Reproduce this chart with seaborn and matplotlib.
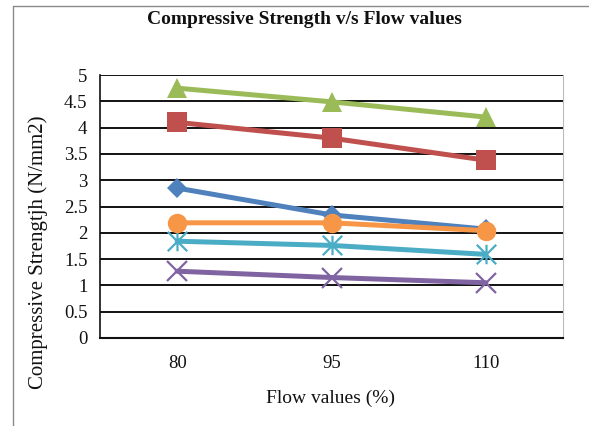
import numpy as np
import pandas as pd
import matplotlib
matplotlib.use("Agg")
import matplotlib.pyplot as plt
from matplotlib.path import Path
from matplotlib.lines import Line2D
import seaborn as sns

# ---- data ----
flow_values = ["80", "95", "110"]
series_names = ["S1", "S2", "S3", "S4", "S5", "S6"]
s1_blue = [2.85, 2.34, 2.07]
s2_red = [4.10, 3.80, 3.38]
s3_green = [4.75, 4.49, 4.20]
s4_purple = [1.27, 1.15, 1.05]
s5_cyan = [1.84, 1.76, 1.59]
s6_orange = [2.19, 2.19, 2.04]
y_ticks = [0, 0.5, 1, 1.5, 2, 2.5, 3, 3.5, 4, 4.5, 5]
y_tick_labels = ["0", "0.5", "1", "1.5", "2", "2.5", "3", "3.5", "4", "4.5", "5"]

sns.set_theme(style="white")
plt.rcParams["font.family"] = ["Liberation Serif", "DejaVu Serif"]

fig = plt.figure(figsize=(5.89, 4.26), dpi=100)
ax = fig.add_axes([100 / 589, 1 - 338 / 426, (563 - 100) / 589, (338 - 75) / 426])

asterisk = Path(
    [(0, -1), (0, 1), (-1, -1), (1, 1), (-1, 1), (1, -1)],
    [Path.MOVETO, Path.LINETO, Path.MOVETO, Path.LINETO, Path.MOVETO, Path.LINETO],
)

styles = [
    (s1_blue, "#4F81BD", "D", 10.5, True),
    (s2_red, "#C0504D", "s", 14, True),
    (s3_green, "#9BBB59", "^", 14.5, True),
    (s4_purple, "#8064A2", "x", 14, False),
    (s5_cyan, "#4BACC6", asterisk, 14, False),
    (s6_orange, "#F79646", "o", 14, True),
]

x_pos = np.arange(len(flow_values))
for i, (vals, col, mk, ms, filled) in enumerate(styles):
    df = pd.DataFrame({"x": x_pos, "y": vals})
    kw = dict(markerfacecolor=col, markeredgecolor=col)
    kw["markeredgewidth"] = 0 if filled else 1.6
    sns.lineplot(data=df, x="x", y="y", ax=ax, color=col, linewidth=3.6,
                 marker=mk, markersize=ms, zorder=3 + i, **kw)

ax.set_xlim(-0.5, len(flow_values) - 0.5)
ax.set_ylim(0, 5)
ax.set_yticks(y_ticks)
ax.set_yticklabels(y_tick_labels)
ax.set_xticks(x_pos)
ax.set_xticklabels(flow_values)
ax.tick_params(axis="y", length=0, pad=9, labelsize=13.5, colors="#111111")
ax.tick_params(axis="x", length=0, pad=12, labelsize=13.5, colors="#111111")
ax.set_xlabel("")
ax.set_ylabel("")

ax.grid(False)
for yv in y_ticks[1:]:
    ax.axhline(yv, color="#111111", linewidth=1.4, zorder=1)

ax.spines["top"].set_visible(False)
ax.spines["right"].set_visible(True)
ax.spines["right"].set_color("#BBBBBB")
ax.spines["right"].set_linewidth(0.8)
ax.spines["left"].set_color("#111111")
ax.spines["left"].set_linewidth(1.2)
ax.spines["bottom"].set_color("#111111")
ax.spines["bottom"].set_linewidth(1.5)

fig.text(304 / 589, 1 - 19 / 426, "Compressive Strength v/s Flow values",
         ha="center", va="center", fontsize=14, fontweight="bold", color="#111111")
fig.text(331 / 589, 1 - 398 / 426, "Flow values (%)",
         ha="center", va="center", fontsize=14, color="#111111")
fig.text(38 / 589, 1 - 252 / 426, "Compressive Strengtjh (N/mm2)",
         ha="center", va="center", rotation=90, fontsize=15, color="#111111")

# outer chart border
fig.add_artist(Line2D([13 / 589, 13 / 589], [0, 1 - 5.5 / 426], transform=fig.transFigure,
                      color="#8a8a8a", linewidth=1.0))
fig.add_artist(Line2D([13 / 589, 1], [1 - 5.5 / 426, 1 - 5.5 / 426], transform=fig.transFigure,
                      color="#8a8a8a", linewidth=1.0))

fig.savefig("out.png", dpi=100)
